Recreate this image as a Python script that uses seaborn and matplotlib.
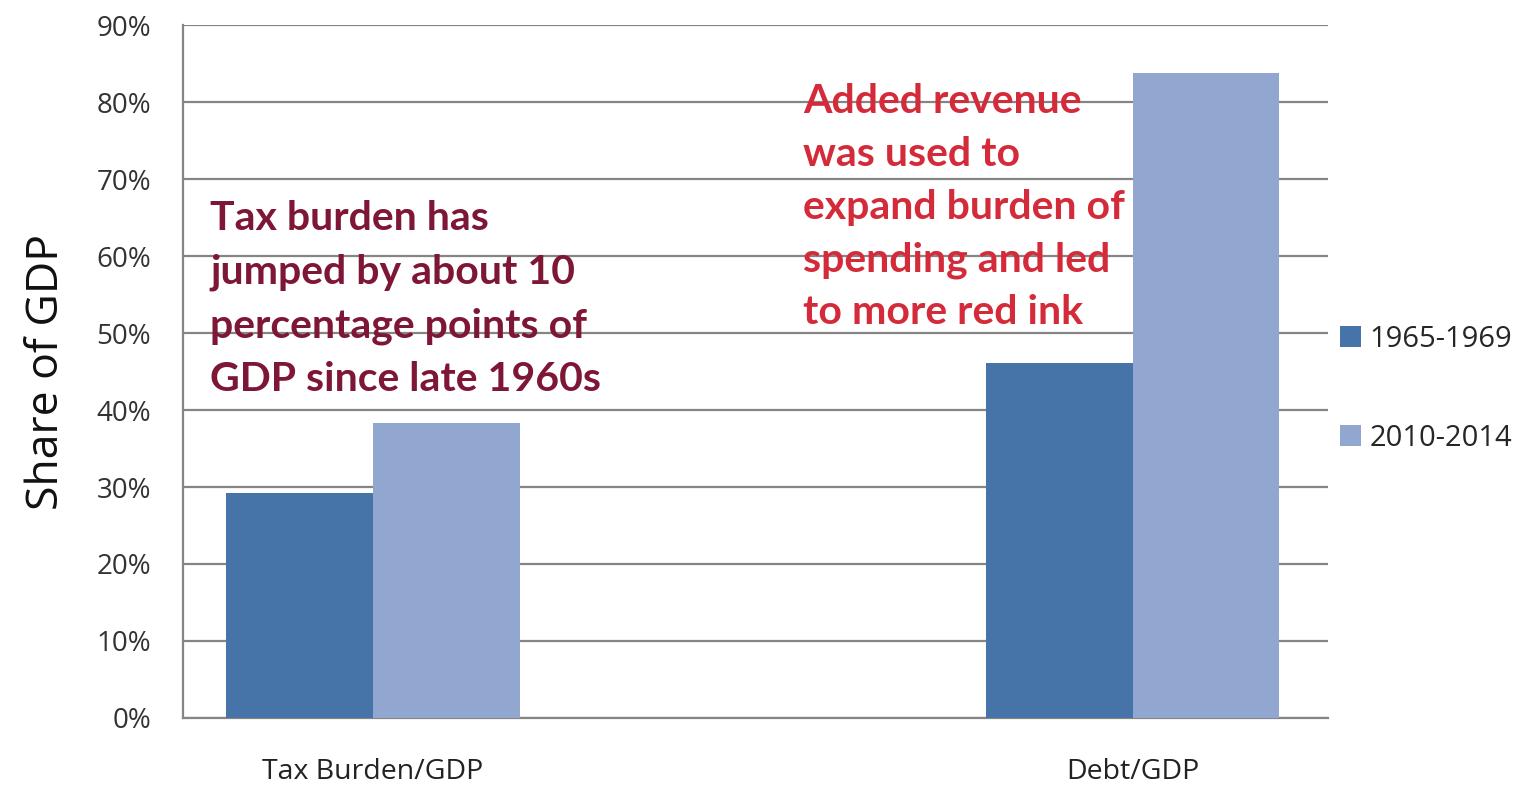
import matplotlib
matplotlib.use("Agg")
import matplotlib.pyplot as plt
import seaborn as sns
import pandas as pd
from matplotlib.ticker import PercentFormatter, FixedLocator
from matplotlib.patches import Patch

categories = ["Tax Burden/GDP", "Debt/GDP"]
periods = ["1965-1969", "2010-2014"]
vals_1965 = [0.292, 0.461]
vals_2010 = [0.383, 0.838]
yticks = [0.0, 0.1, 0.2, 0.3, 0.4, 0.5, 0.6, 0.7, 0.8, 0.9]

colors = {"1965-1969": "#4673A8", "2010-2014": "#92A7CF"}

df = pd.DataFrame({
    "category": categories * 2,
    "period": [periods[0]] * 2 + [periods[1]] * 2,
    "value": vals_1965 + vals_2010,
})

sns.set_theme(style="white")
plt.rcParams['font.family'] = ['Open Sans', 'DejaVu Sans']

fig = plt.figure(figsize=(15.3, 7.85), dpi=100)
ax = fig.add_axes([0.1196, 0.0854, 0.868 - 0.1196, 0.968 - 0.0854])

sns.barplot(data=df, x="category", y="value", hue="period", order=categories,
            hue_order=periods, palette=colors, width=0.386, gap=0,
            saturation=1, ax=ax, legend=False, zorder=3, linewidth=0)

ax.set_ylim(0, 0.9)
ax.set_xlim(-0.25, 1.257)
ax.yaxis.set_major_locator(FixedLocator(yticks))
ax.yaxis.set_major_formatter(PercentFormatter(1.0, decimals=0))
ax.grid(axis="y", color="#858585", linewidth=1.6, zorder=0)
ax.grid(axis="x", visible=False)
ax.set_axisbelow(True)

for s in ["top", "right"]:
    ax.spines[s].set_visible(False)
for s in ["left", "bottom"]:
    ax.spines[s].set_color("#858585")
    ax.spines[s].set_linewidth(1.6)

ax.tick_params(axis="y", length=0, pad=23, labelsize=20, labelcolor="#333333")
ax.tick_params(axis="x", length=0, pad=29, labelsize=20.5, labelcolor="#222222")
ax.set_xlabel("")
ax.set_ylabel("Share of GDP", fontsize=32, labelpad=20, color="#111111")

ax.text(0.0236, 0.747, "Tax burden has\njumped by about 10\npercentage points of\nGDP since late 1960s",
        transform=ax.transAxes, ha="left", va="top", fontsize=29.5, fontweight="bold",
        family=["Lato", "DejaVu Sans"], color="#7E1635", linespacing=1.54, zorder=5)
ax.text(0.5415, 0.916, "Added revenue\nwas used to\nexpand burden of\nspending and led\nto more red ink",
        transform=ax.transAxes, ha="left", va="top", fontsize=29.5, fontweight="bold",
        family=["Lato", "DejaVu Sans"], color="#D42B3A", linespacing=1.52, zorder=5)

handles = [Patch(facecolor=colors[p], edgecolor="none", label=p) for p in periods]
ax.legend(handles=handles, loc="center left", bbox_to_anchor=(1.0, 0.475),
          frameon=False, labelspacing=2.4, handlelength=0.72, handleheight=0.72,
          handletextpad=0.3, fontsize=21, borderpad=0.4, borderaxespad=0.0)

fig.savefig("out.png", dpi=100, facecolor="white")
